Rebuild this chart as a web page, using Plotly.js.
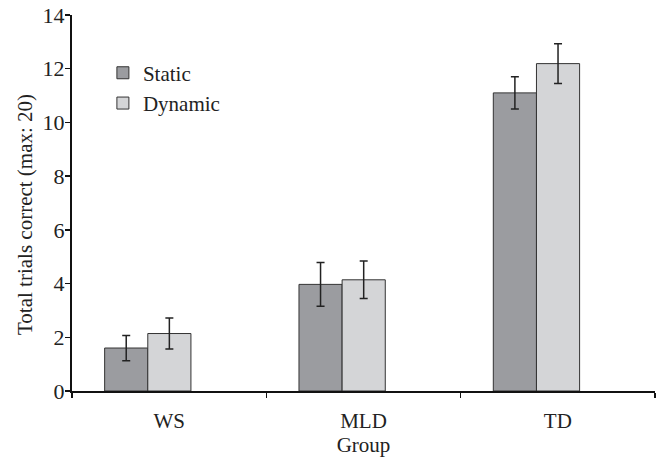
<!DOCTYPE html>
<html>
<head>
<meta charset="utf-8">
<script src="https://cdn.plot.ly/plotly-3.0.1.min.js"></script>
<style>html,body{margin:0;padding:0;background:#fff;}#chart{width:664px;height:459px;}</style>
</head>
<body>
<div id="chart"></div>
<script>
var groups = ["WS", "MLD", "TD"];
var staticValues = [1.60, 3.97, 11.10];
var staticErrors = [0.47, 0.81, 0.60];
var dynamicValues = [2.14, 4.14, 12.19];
var dynamicErrors = [0.58, 0.70, 0.74];
var yTicks = [0, 2, 4, 6, 8, 10, 12, 14];
var yTitle = "Total trials correct (max: 20)";
var xTitle = "Group";

var font = "'Liberation Serif', 'Times New Roman', serif";
var errStyle = {type: "data", visible: true, color: "#222", thickness: 1.5, width: 4};
var barW = 0.222;
var shift = -0.11;

var traces = [
  {type: "bar", name: "Static", x: groups, y: staticValues,
   width: barW, offset: shift - barW,
   error_y: Object.assign({array: staticErrors}, errStyle),
   marker: {color: "#9b9ca0", line: {color: "#333", width: 1}}},
  {type: "bar", name: "Dynamic", x: groups, y: dynamicValues,
   width: barW, offset: shift,
   error_y: Object.assign({array: dynamicErrors}, errStyle),
   marker: {color: "#d4d5d7", line: {color: "#333", width: 1}}}
];

var layout = {
  width: 664, height: 459,
  margin: {l: 72, r: 9, t: 15, b: 68},
  paper_bgcolor: "#fff", plot_bgcolor: "#fff",
  font: {family: font, size: 21, color: "#222"},
  barmode: "overlay",
  showlegend: true,
  legend: {x: 0.053, y: 0.9, xanchor: "left", yanchor: "top", bgcolor: "rgba(0,0,0,0)",
           font: {family: font, size: 21, color: "#222"}, tracegroupgap: 0, itemwidth: 30},
  xaxis: {type: "category", range: [-0.5, 2.5], tickson: "boundaries",
          showline: true, linecolor: "#111", linewidth: 2,
          ticks: "outside", ticklen: 5, tickwidth: 1.5, tickcolor: "#111",
          showgrid: false, zeroline: false, ticklabelstandoff: 10,
          tickfont: {family: font, size: 21, color: "#222"},
          title: {text: xTitle, font: {family: font, size: 21, color: "#222"}, standoff: 5}},
  yaxis: {range: [0, 14], tickvals: yTicks, ticktext: yTicks.map(String),
          showline: true, linecolor: "#111", linewidth: 2,
          ticks: "outside", ticklen: 5, tickwidth: 1.5, tickcolor: "#111",
          showgrid: false, zeroline: false, ticklabelstandoff: -4,
          tickfont: {family: font, size: 22, color: "#222"}},
  annotations: [
    {text: yTitle, textangle: -90, xref: "paper", yref: "paper",
     x: (25 - 72) / 583, y: (391 - 215) / 376, xanchor: "center", yanchor: "middle",
     showarrow: false, font: {family: font, size: 21, color: "#222"}}
  ]
};

Plotly.newPlot("chart", traces, layout, {displayModeBar: false, staticPlot: true});
</script>
</body>
</html>
